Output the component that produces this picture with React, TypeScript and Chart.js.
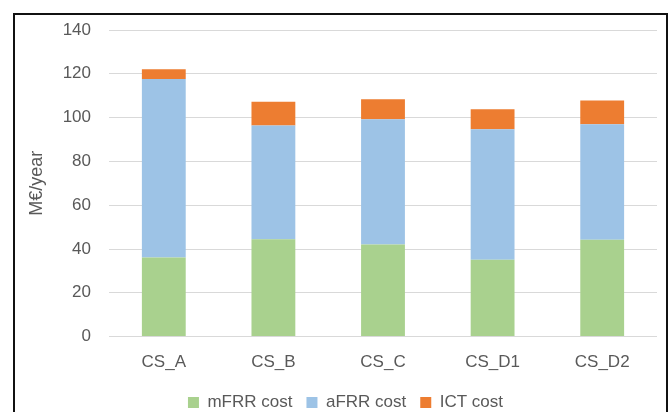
import React, { useEffect, useRef } from "react";
import { Chart, registerables } from "chart.js";

Chart.register(...registerables);

const categories = ["CS_A", "CS_B", "CS_C", "CS_D1", "CS_D2"];
const mFRRCost = [36.1, 44.4, 42.1, 35.1, 44.2];
const aFRRCost = [81.5, 52.0, 57.2, 59.6, 52.8];
const ictCost = [4.5, 10.8, 9.1, 9.1, 10.8];
const yTickValues = [0, 20, 40, 60, 80, 100, 120, 140];

const FONT = "'Liberation Sans', Arial, sans-serif";
const TEXT = "#595959";

export default function App() {
  const ref = useRef<HTMLCanvasElement | null>(null);

  useEffect(() => {
    if (!ref.current) return;
    const shiftLegend = {
      id: "shiftLegend",
      afterLayout(chart: any) {
        if (chart.legend) chart.legend._shifted = false;
      },
      beforeDraw(chart: any) {
        const lg = chart.legend;
        if (lg && !lg._shifted) {
          lg.left += 8;
          lg.right += 8;
          lg._shifted = true;
        }
      },
    };
    const chart = new Chart(ref.current, {
      type: "bar",
      data: {
        labels: categories,
        datasets: [
          { label: "mFRR cost", data: mFRRCost, backgroundColor: "#A9D18E" },
          { label: "aFRR cost", data: aFRRCost, backgroundColor: "#9DC3E6" },
          { label: "ICT cost", data: ictCost, backgroundColor: "#ED7D31" },
        ],
      },
      options: {
        animation: false,
        responsive: false,
        maintainAspectRatio: false,
        datasets: { bar: { categoryPercentage: 1, barPercentage: 0.4 } },
        layout: { padding: { left: 0, right: 13, top: 30, bottom: -9 } },
        plugins: {
          legend: {
            position: "bottom",
            labels: {
              boxWidth: 11,
              boxHeight: 11,
              padding: 14,
              color: TEXT,
              font: { family: FONT, size: 17 },
            },
          },
          tooltip: { enabled: false },
        },
        scales: {
          x: {
            stacked: true,
            afterFit: (scale: any) => {
              scale.height = scale.height - 9;
            },
            grid: { display: false, drawTicks: false },
            border: { display: false },
            ticks: { color: TEXT, font: { family: FONT, size: 17 }, padding: 16 },
          },
          y: {
            stacked: true,
            min: 0,
            max: 140,
            afterFit: (scale: any) => {
              scale.width = 91;
            },
            afterBuildTicks: (scale: any) => {
              scale.ticks = yTickValues.map((v) => ({ value: v }));
            },
            grid: { color: "#D9D9D9", lineWidth: 1, drawTicks: false },
            border: { display: false },
            ticks: { color: TEXT, font: { family: FONT, size: 17 }, padding: 18 },
            title: {
              display: true,
              text: "M€/year",
              color: TEXT,
              font: { family: FONT, size: 18 },
              padding: { top: 8, bottom: 0 },
            },
          },
        },
      },
      plugins: [shiftLegend],
    });
    return () => chart.destroy();
  }, []);

  return (
    <div
      style={{
        position: "fixed",
        left: 0,
        top: 0,
        width: 670,
        height: 412,
        overflow: "hidden",
        background: "#fff",
      }}
    >
      <canvas ref={ref} width={652} height={412} style={{ position: "absolute", left: 18, top: 0 }} />
      <div
        style={{
          position: "absolute",
          left: 13,
          top: 13,
          width: 651,
          height: 420,
          border: "2px solid #111",
          pointerEvents: "none",
        }}
      />
    </div>
  );
}
